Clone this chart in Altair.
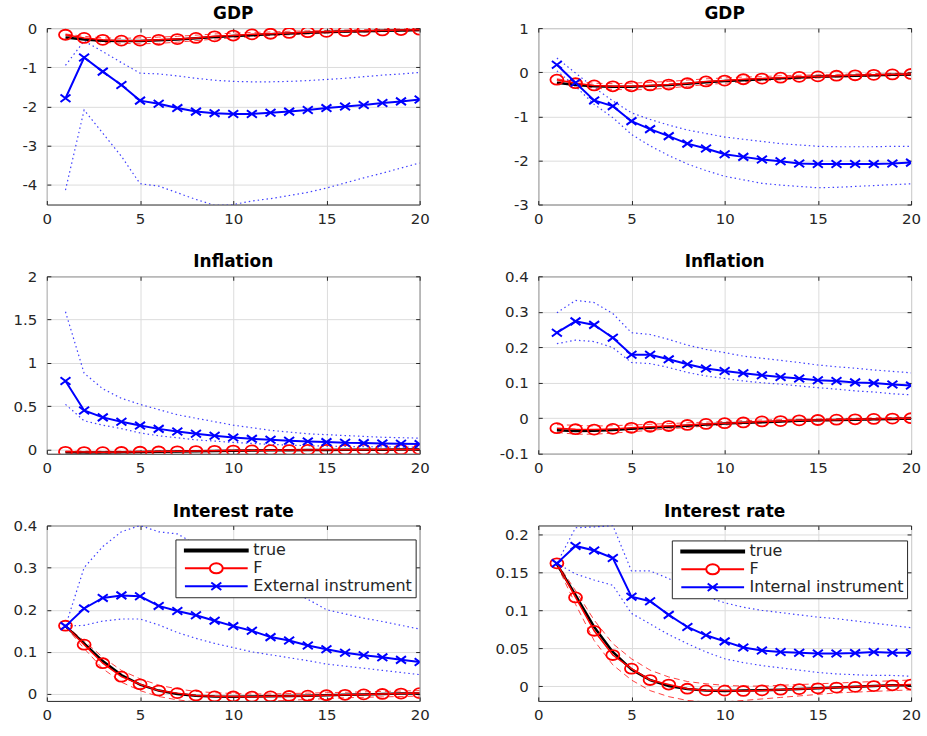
import altair as alt
import pandas as pd

# ---------------- data ----------------
steps = list(range(1, 21))

gdp_true = [-0.24, -0.29, -0.32, -0.33, -0.33, -0.31, -0.29, -0.26, -0.23, -0.20,
            -0.18, -0.16, -0.14, -0.12, -0.10, -0.09, -0.08, -0.07, -0.06, -0.05]
gdp_F = [-0.17, -0.25, -0.30, -0.32, -0.32, -0.30, -0.28, -0.25, -0.21, -0.19,
         -0.16, -0.145, -0.125, -0.105, -0.095, -0.08, -0.07, -0.06, -0.05, -0.04]
gdp_F_lo = [-0.19, -0.29, -0.36, -0.39, -0.40, -0.39, -0.36, -0.32, -0.28, -0.25,
            -0.22, -0.19, -0.17, -0.15, -0.13, -0.11, -0.10, -0.09, -0.08, -0.07]
gdp_F_hi = [-0.15, -0.21, -0.25, -0.26, -0.25, -0.23, -0.21, -0.18, -0.15, -0.13,
            -0.11, -0.10, -0.08, -0.07, -0.06, -0.05, -0.04, -0.03, -0.025, -0.02]
gdp_ext = [-1.79, -0.75, -1.11, -1.45, -1.85, -1.93, -2.04, -2.13, -2.17, -2.19,
           -2.19, -2.16, -2.13, -2.09, -2.04, -2.00, -1.96, -1.91, -1.87, -1.82]
gdp_ext_hi = [-0.95, -0.33, -0.60, -0.88, -1.15, -1.17, -1.22, -1.28, -1.33, -1.36,
              -1.37, -1.37, -1.36, -1.34, -1.31, -1.28, -1.24, -1.20, -1.17, -1.13]
gdp_ext_lo = [-4.13, -2.09, -2.68, -3.27, -3.97, -4.03, -4.20, -4.37, -4.52, -4.50,
              -4.41, -4.35, -4.27, -4.19, -4.08, -3.95, -3.82, -3.70, -3.57, -3.44]
gdp_int = [0.17, -0.24, -0.64, -0.77, -1.11, -1.29, -1.45, -1.62, -1.73, -1.86,
           -1.92, -1.98, -2.02, -2.07, -2.08, -2.08, -2.08, -2.08, -2.07, -2.05]
gdp_int_hi = [0.32, -0.02, -0.35, -0.65, -0.92, -1.07, -1.20, -1.31, -1.39, -1.47,
              -1.52, -1.57, -1.62, -1.65, -1.68, -1.69, -1.69, -1.69, -1.68, -1.68]
gdp_int_lo = [0.03, -0.32, -0.73, -1.03, -1.41, -1.67, -1.89, -2.08, -2.23, -2.36,
              -2.44, -2.52, -2.56, -2.59, -2.62, -2.61, -2.59, -2.57, -2.55, -2.53]

inf_true = [-0.034, -0.036, -0.035, -0.033, -0.030, -0.027, -0.024, -0.021, -0.018, -0.015,
            -0.013, -0.011, -0.009, -0.007, -0.006, -0.005, -0.004, -0.003, -0.002, -0.001]
inf_F = [-0.028, -0.031, -0.032, -0.030, -0.027, -0.024, -0.022, -0.019, -0.016, -0.014,
         -0.012, -0.009, -0.008, -0.006, -0.005, -0.004, -0.003, -0.002, -0.001, 0.0]
inf_F_lo = [-0.040, -0.045, -0.045, -0.042, -0.038, -0.034, -0.030, -0.026, -0.022, -0.019,
            -0.016, -0.013, -0.011, -0.009, -0.008, -0.007, -0.006, -0.005, -0.004, -0.003]
inf_F_hi = [-0.018, -0.020, -0.022, -0.021, -0.019, -0.017, -0.015, -0.013, -0.011, -0.009,
            -0.007, -0.005, -0.004, -0.003, -0.002, -0.001, 0.0, 0.001, 0.002, 0.003]
inf_ext = [0.79, 0.45, 0.37, 0.32, 0.275, 0.237, 0.206, 0.18, 0.157, 0.138,
           0.122, 0.111, 0.10, 0.092, 0.084, 0.076, 0.073, 0.069, 0.065, 0.061]
inf_ext_hi = [1.59, 0.88, 0.70, 0.59, 0.52, 0.46, 0.40, 0.36, 0.32, 0.28,
              0.25, 0.22, 0.20, 0.18, 0.17, 0.16, 0.15, 0.14, 0.135, 0.13]
inf_ext_lo = [0.52, 0.33, 0.28, 0.24, 0.19, 0.157, 0.134, 0.11, 0.096, 0.08,
              0.069, 0.057, 0.05, 0.042, 0.038, 0.034, 0.031, 0.03, 0.027, 0.026]
inf_int = [0.241, 0.273, 0.263, 0.227, 0.179, 0.179, 0.166, 0.152, 0.140, 0.133,
           0.127, 0.121, 0.116, 0.112, 0.107, 0.105, 0.101, 0.099, 0.095, 0.092]
inf_int_hi = [0.297, 0.332, 0.326, 0.295, 0.241, 0.236, 0.222, 0.206, 0.194, 0.185,
              0.175, 0.169, 0.163, 0.157, 0.150, 0.145, 0.141, 0.136, 0.132, 0.128]
inf_int_lo = [0.210, 0.220, 0.216, 0.199, 0.157, 0.154, 0.143, 0.129, 0.119, 0.112,
              0.105, 0.100, 0.096, 0.091, 0.086, 0.082, 0.077, 0.074, 0.069, 0.066]

ir_true = [0.161, 0.120, 0.078, 0.045, 0.022, 0.008, 0.0, -0.004, -0.006, -0.0065,
           -0.006, -0.0055, -0.005, -0.004, -0.003, -0.002, -0.001, 0.0, 0.001, 0.001]
ir_F = [0.162, 0.117, 0.073, 0.041, 0.023, 0.008, 0.002, -0.0035, -0.0057, -0.006,
        -0.0065, -0.0057, -0.0048, -0.004, -0.003, -0.002, -0.001, 0.0, 0.001, 0.002]
ir_F_lo = [0.160, 0.108, 0.060, 0.028, 0.008, -0.006, -0.014, -0.019, -0.021, -0.021,
           -0.019, -0.017, -0.015, -0.013, -0.011, -0.009, -0.008, -0.007, -0.006, -0.005]
ir_F_hi = [0.163, 0.126, 0.087, 0.056, 0.036, 0.021, 0.012, 0.006, 0.003, 0.001,
           0.0, 0.0, 0.001, 0.002, 0.003, 0.004, 0.005, 0.006, 0.007, 0.008]
ir_ext = [0.161, 0.203, 0.228, 0.234, 0.232, 0.209, 0.197, 0.187, 0.174, 0.161,
          0.150, 0.135, 0.127, 0.115, 0.106, 0.098, 0.092, 0.087, 0.081, 0.076]
ir_ext_hi = [0.161, 0.300, 0.350, 0.385, 0.400, 0.385, 0.380, 0.355, 0.330, 0.310,
             0.290, 0.265, 0.245, 0.225, 0.200, 0.190, 0.180, 0.172, 0.163, 0.154]
ir_ext_lo = [0.161, 0.163, 0.173, 0.178, 0.178, 0.164, 0.146, 0.132, 0.120, 0.110,
             0.100, 0.093, 0.086, 0.079, 0.071, 0.066, 0.061, 0.056, 0.051, 0.046]
ir_int = [0.162, 0.185, 0.179, 0.169, 0.118, 0.112, 0.094, 0.078, 0.067, 0.059,
          0.051, 0.047, 0.045, 0.044, 0.043, 0.043, 0.0435, 0.045, 0.044, 0.044]
ir_int_hi = [0.162, 0.209, 0.210, 0.212, 0.152, 0.152, 0.142, 0.127, 0.118, 0.110,
             0.104, 0.100, 0.097, 0.094, 0.091, 0.089, 0.086, 0.083, 0.080, 0.077]
ir_int_lo = [0.162, 0.148, 0.140, 0.133, 0.096, 0.082, 0.068, 0.056, 0.045, 0.036,
             0.031, 0.027, 0.024, 0.021, 0.018, 0.016, 0.015, 0.014, 0.014, 0.013]

x_ticks = [0, 5, 10, 15, 20]

# ---------------- styling ----------------
FONT = "DejaVu Sans"
PW = 374
AXC = "#262626"

O_PATH = "M-1.3,0A1.3,1 0 1,0 1.3,0A1.3,1 0 1,0 -1.3,0"
X_PATH = "M-1,-0.75L1,0.75M-1,0.75L1,-0.75"
LEG_TRUE = "M-6.3,-0.2L6.3,-0.2L6.3,0.2L-6.3,0.2Z"
LEG_F = "M-6.3,0L-1.3,0M1.3,0L6.3,0" + O_PATH
LEG_X = "M-6.3,0L6.3,0" + X_PATH


def panel(title, true, F, F_lo, F_hi, est, est_lo, est_hi, ydom, yticks, ph,
          est_name=None, leg_xy=None, title_offset=-2):
    df = pd.DataFrame({"h": steps, "true": true, "F": F, "F_lo": F_lo, "F_hi": F_hi,
                       "est": est, "est_lo": est_lo, "est_hi": est_hi})
    base = alt.Chart(df)
    xsc = alt.Scale(domain=[0, 20], nice=False, zero=False)
    ysc = alt.Scale(domain=ydom, nice=False, zero=False)

    x_axis = alt.Axis(orient="bottom", values=x_ticks, title=None, labelFlush=False,
                      grid=True, labelPadding=7)
    y_axis = alt.Axis(orient="left", values=yticks, title=None, grid=True, labelPadding=10,
                      labelExpr="toString(datum.value)")

    def tick_axis(orient, vals):
        return alt.Axis(orient=orient, values=vals, title=None, labels=False, grid=False,
                        domain=False, ticks=True, tickSize=4, offset=-4, tickColor=AXC,
                        tickWidth=1)

    def xe(axis=None):
        return alt.X("h:Q", scale=xsc, axis=axis)

    def ye(col, axis=None):
        return alt.Y(f"{col}:Q", scale=ysc, axis=axis)

    layers = []
    first = True
    for col in ["F_lo", "F_hi"]:
        ax_x = x_axis if first else None
        ax_y = y_axis if first else None
        first = False
        layers.append(base.mark_line(color="#ff0000", strokeWidth=1, strokeDash=[6, 4],
                                     opacity=0.75, clip=True)
                      .encode(x=xe(ax_x), y=ye(col, ax_y)))
    for col in ["est_lo", "est_hi"]:
        layers.append(base.mark_line(color="#0000ff", strokeWidth=1.2, strokeDash=[1.5, 3],
                                     opacity=0.75, clip=True).encode(x=xe(), y=ye(col)))
    layers.append(base.mark_line(color="black", strokeWidth=2.5, clip=True)
                  .encode(x=xe(), y=ye("true")))
    layers.append(base.mark_line(color="#ff0000", strokeWidth=1.5, clip=True)
                  .encode(x=xe(), y=ye("F")))
    layers.append(base.mark_point(shape=O_PATH, size=100, filled=False, color="#ff0000",
                                  strokeWidth=1.8, opacity=1, clip=True)
                  .encode(x=xe(), y=ye("F")))
    layers.append(base.mark_line(color="#0000ff", strokeWidth=2, clip=True)
                  .encode(x=xe(), y=ye("est")))
    layers.append(base.mark_point(shape=X_PATH, size=100, filled=False, color="#0000ff",
                                  strokeWidth=2, opacity=1, clip=True)
                  .encode(x=xe(), y=ye("est")))

    # inward MATLAB-style ticks on all four sides (axes only, no marks drawn)
    for ox, oy in [("bottom", "left"), ("top", "right")]:
        layers.append(base.transform_filter("false").mark_point(opacity=0)
                      .encode(x=xe(tick_axis(ox, x_ticks)),
                              y=ye("F", tick_axis(oy, yticks))))

    if est_name is not None:
        names = ["true", "F", est_name]
        leg = alt.Legend(title=None, orient="none", legendX=leg_xy[0], legendY=leg_xy[1],
                         fillColor="white", strokeColor=AXC, padding=3,
                         labelFont=FONT, labelFontSize=16, labelColor=AXC,
                         symbolSize=100, symbolStrokeWidth=2, symbolOffset=30,
                         labelOffset=29, rowPadding=1, symbolOpacity=1)
        leg_df = pd.DataFrame({"series": names, "h": [1, 1, 1], "v": [0.0, 0.0, 0.0]})
        layers.append(
            alt.Chart(leg_df).transform_filter("false")
            .mark_point(filled=False, size=100, strokeWidth=2)
            .encode(
                x=xe(),
                y=ye("v"),
                color=alt.Color("series:N", scale=alt.Scale(domain=names,
                                range=["black", "#ff0000", "#0000ff"]), legend=leg),
                shape=alt.Shape("series:N", scale=alt.Scale(domain=names,
                                range=[LEG_TRUE, LEG_F, LEG_X]), legend=leg),
            )
        )

    return (alt.layer(*layers)
            .resolve_axis(x="independent", y="independent")
            .properties(width=PW, height=ph,
                        title=alt.TitleParams(title, offset=title_offset)))


p1 = panel("GDP", gdp_true, gdp_F, gdp_F_lo, gdp_F_hi, gdp_ext, gdp_ext_lo, gdp_ext_hi,
           [-4.5, 0], [0, -1, -2, -3, -4], 177)
p2 = panel("GDP", gdp_true, gdp_F, gdp_F_lo, gdp_F_hi, gdp_int, gdp_int_lo, gdp_int_hi,
           [-3, 1], [1, 0, -1, -2, -3], 177)
p3 = panel("Inflation", inf_true, inf_F, inf_F_lo, inf_F_hi, inf_ext, inf_ext_lo, inf_ext_hi,
           [-0.05, 2], [0, 0.5, 1, 1.5, 2], 178)
p4 = panel("Inflation", inf_true, inf_F, inf_F_lo, inf_F_hi, inf_int, inf_int_lo, inf_int_hi,
           [-0.1, 0.4], [-0.1, 0, 0.1, 0.2, 0.3, 0.4], 178)
p5 = panel("Interest rate", ir_true, ir_F, ir_F_lo, ir_F_hi, ir_ext, ir_ext_lo, ir_ext_hi,
           [-0.0165, 0.4], [0, 0.1, 0.2, 0.3, 0.4], 176, "External instrument", (129, 14))
p6 = panel("Interest rate", ir_true, ir_F, ir_F_lo, ir_F_hi, ir_int, ir_int_lo, ir_int_hi,
           [-0.0196, 0.212], [0, 0.05, 0.1, 0.15, 0.2], 176, "Internal instrument", (134, 15),
           title_offset=4)

chart = (
    alt.concat(p1, p2, p3, p4, p5, p6, columns=2,
               spacing=alt.RowColnumber(row=72, column=119), bounds="flush")
    .resolve_scale(color="independent", shape="independent", x="independent", y="independent")
    .resolve_legend(color="independent", shape="independent")
    .properties(padding={"left": 12, "top": 3, "right": 5, "bottom": 5}, background="white")
    .configure_view(stroke=AXC, strokeWidth=1)
    .configure_axis(labelFont=FONT, labelFontSize=15, labelColor=AXC,
                    gridColor="#dcdcdc", gridWidth=1, domain=False, ticks=False, tickSize=0)
    .configure_title(font=FONT, fontSize=17, fontWeight="bold", color="black",
                     anchor="middle")
)

chart.save("out.html", embed_options={"renderer": "svg", "actions": False})
